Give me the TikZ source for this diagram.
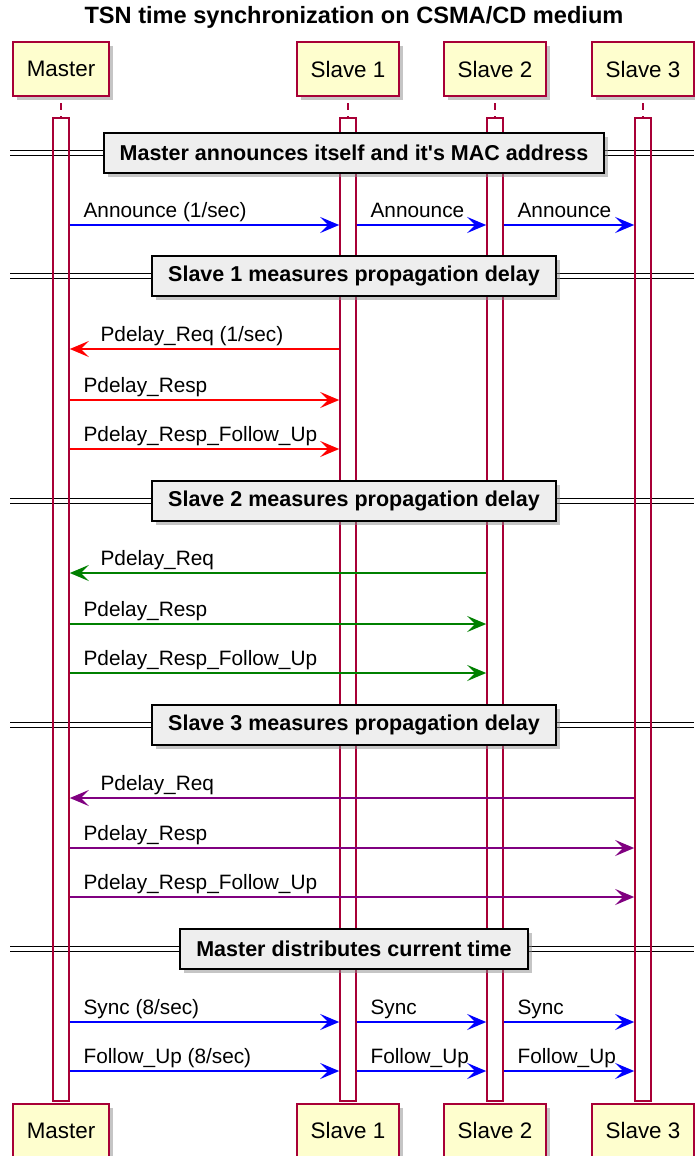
\documentclass[tikz,border=0pt]{standalone}
\usepackage{fontspec}
\setmainfont{Liberation Sans}
\usetikzlibrary{arrows.meta,backgrounds,shadows,positioning}
\definecolor{lifered}{HTML}{A80036}
\definecolor{partfill}{HTML}{FEFECE}
\definecolor{divfill}{HTML}{EEEEEE}
\definecolor{msggreen}{HTML}{008000}
\definecolor{msgpurple}{HTML}{800080}
\newcommand{\msgfont}{\fontsize{20.8}{24}\selectfont}
\newcommand{\partfont}{\fontsize{22.4}{26}\selectfont}
\newcommand{\msgwidth}{1.6pt}
\newcommand{\shadowcolor}{black!45}
\tikzset{
  part/.style={draw=lifered, fill=partfill, line width=2pt, minimum height=54pt,
    inner xsep=13.5pt, font=\partfont,
    drop shadow={shadow xshift=4pt, shadow yshift=-4pt, fill=\shadowcolor, opacity=0.5}},
  actbar/.style={draw=lifered, line width=\msgwidth, minimum width=16pt,
    minimum height=983pt, inner sep=0pt},
  stub/.style={draw=lifered, line width=\msgwidth, dash pattern=on 7pt off 6pt, dash phase=7pt},
  divbox/.style={draw=black, fill=divfill, line width=2.2pt, minimum height=40pt,
    inner xsep=16pt, font=\bfseries\fontsize{21.5}{25}\selectfont,
    drop shadow={shadow xshift=4pt, shadow yshift=-4pt, fill=\shadowcolor, opacity=0.5}},
  sepline/.style={draw=black, double=white, double distance=3.2pt, line width=\msgwidth},
  msg/.style={line width=\msgwidth, -{Stealth[length=19pt,width=16pt,inset=8pt]}},
  lbl/.style={font=\msgfont, inner sep=0pt, text=black},
}

\begin{document}
\begin{tikzpicture}[x=1pt, y=-1pt]
\useasboundingbox (0,0) rectangle (694,1156);
\node[font=\bfseries\fontsize{23.6}{28}\selectfont] (title) at (354,17) {TSN time synchronization on CSMA/CD medium};
%participants
\node[part] (m) at (61,69) {Master};
\node[part] (s1) at (348,69) {Slave 1};
\node[part] (s2) at (495,69) {Slave 2};
\node[part] (s3) at (643,69) {Slave 3};
%activations
\node[actbar, below=20pt of m] (am) {};
\node[actbar, below=20pt of s1] (as1) {};
\node[actbar, below=20pt of s2] (as2) {};
\node[actbar, below=20pt of s3] (as3) {};
\draw[stub] (m.south) -- (am.north);
\draw[stub] (s1.south) -- (as1.north);
\draw[stub] (s2.south) -- (as2.north);
\draw[stub] (s3.south) -- (as3.north);
\node[part, below=1pt of am] (mb) {Master};
\node[part, below=1pt of as1] (s1b) {Slave 1};
\node[part, below=1pt of as2] (s2b) {Slave 2};
\node[part, below=1pt of as3] (s3b) {Slave 3};
%dividers
\coordinate (lft) at (10,0);
\coordinate (rgt) at (694,0);
\node[divbox] (d1) at (354,153) {Master announces itself and it\textquotesingle s MAC address};
\node[divbox] (d2) at (354,276) {Slave 1 measures propagation delay};
\node[divbox] (d3) at (354,501) {Slave 2 measures propagation delay};
\node[divbox] (d4) at (354,725) {Slave 3 measures propagation delay};
\node[divbox] (d5) at (354,949) {Master distributes current time};
\begin{scope}[on background layer]
\draw[sepline] (lft |- d1) -- (rgt |- d1);
\draw[sepline] (lft |- d2) -- (rgt |- d2);
\draw[sepline] (lft |- d3) -- (rgt |- d3);
\draw[sepline] (lft |- d4) -- (rgt |- d4);
\draw[sepline] (lft |- d5) -- (rgt |- d5);
\end{scope}
%rows
\coordinate (r1) at (0,225);
\coordinate (r2) at (0,349);
\coordinate (r3) at (0,400);
\coordinate (r4) at (0,449);
\coordinate (r5) at (0,573);
\coordinate (r6) at (0,624);
\coordinate (r7) at (0,673);
\coordinate (r8) at (0,798);
\coordinate (r9) at (0,848);
\coordinate (r10) at (0,897);
\coordinate (r11) at (0,1022);
\coordinate (r12) at (0,1071);
%announce
\draw[msg, blue] (am.east |- r1) -- (as1.west |- r1) node[lbl, pos=0, anchor=base west, xshift=13pt, yshift=8pt] {Announce (1/sec)};
\draw[msg, blue] (as1.east |- r1) -- (as2.west |- r1) node[lbl, pos=0, anchor=base west, xshift=13pt, yshift=8pt] {Announce};
\draw[msg, blue] (as2.east |- r1) -- (as3.west |- r1) node[lbl, pos=0, anchor=base west, xshift=13pt, yshift=8pt] {Announce};
%slave 1
\draw[msg, red] (as1.west |- r2) -- (am.east |- r2) node[lbl, pos=1, anchor=base west, xshift=30pt, yshift=8pt] {Pdelay\_Req (1/sec)};
\draw[msg, red] (am.east |- r3) -- (as1.west |- r3) node[lbl, pos=0, anchor=base west, xshift=13pt, yshift=8pt] {Pdelay\_Resp};
\draw[msg, red] (am.east |- r4) -- (as1.west |- r4) node[lbl, pos=0, anchor=base west, xshift=13pt, yshift=8pt] {Pdelay\_Resp\_Follow\_Up};
%slave 2
\draw[msg, msggreen] (as2.west |- r5) -- (am.east |- r5) node[lbl, pos=1, anchor=base west, xshift=30pt, yshift=8pt] {Pdelay\_Req};
\draw[msg, msggreen] (am.east |- r6) -- (as2.west |- r6) node[lbl, pos=0, anchor=base west, xshift=13pt, yshift=8pt] {Pdelay\_Resp};
\draw[msg, msggreen] (am.east |- r7) -- (as2.west |- r7) node[lbl, pos=0, anchor=base west, xshift=13pt, yshift=8pt] {Pdelay\_Resp\_Follow\_Up};
%slave 3
\draw[msg, msgpurple] (as3.west |- r8) -- (am.east |- r8) node[lbl, pos=1, anchor=base west, xshift=30pt, yshift=8pt] {Pdelay\_Req};
\draw[msg, msgpurple] (am.east |- r9) -- (as3.west |- r9) node[lbl, pos=0, anchor=base west, xshift=13pt, yshift=8pt] {Pdelay\_Resp};
\draw[msg, msgpurple] (am.east |- r10) -- (as3.west |- r10) node[lbl, pos=0, anchor=base west, xshift=13pt, yshift=8pt] {Pdelay\_Resp\_Follow\_Up};
%sync
\draw[msg, blue] (am.east |- r11) -- (as1.west |- r11) node[lbl, pos=0, anchor=base west, xshift=13pt, yshift=8pt] {Sync (8/sec)};
\draw[msg, blue] (as1.east |- r11) -- (as2.west |- r11) node[lbl, pos=0, anchor=base west, xshift=13pt, yshift=8pt] {Sync};
\draw[msg, blue] (as2.east |- r11) -- (as3.west |- r11) node[lbl, pos=0, anchor=base west, xshift=13pt, yshift=8pt] {Sync};
\draw[msg, blue] (am.east |- r12) -- (as1.west |- r12) node[lbl, pos=0, anchor=base west, xshift=13pt, yshift=8pt] {Follow\_Up (8/sec)};
\draw[msg, blue] (as1.east |- r12) -- (as2.west |- r12) node[lbl, pos=0, anchor=base west, xshift=13pt, yshift=8pt] {Follow\_Up};
\draw[msg, blue] (as2.east |- r12) -- (as3.west |- r12) node[lbl, pos=0, anchor=base west, xshift=13pt, yshift=8pt] {Follow\_Up};
\end{tikzpicture}
\end{document}
